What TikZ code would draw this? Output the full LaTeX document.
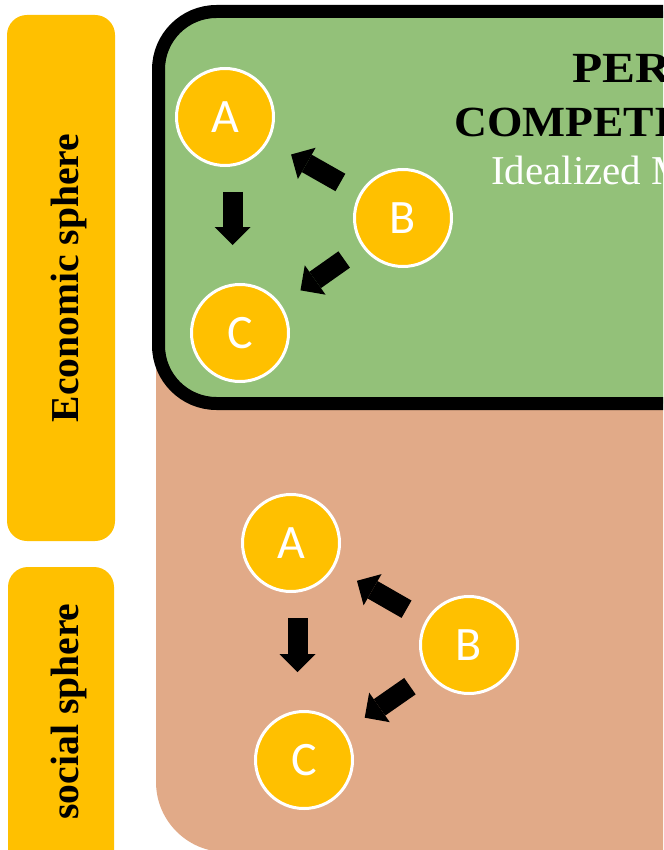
\documentclass[tikz,border=0pt]{standalone}
\usepackage{graphicx}
\usepackage{fontspec}
\setmainfont{Liberation Serif}
\newfontfamily\calib{Carlito}
\usetikzlibrary{arrows.meta,calc}
\definecolor{gold}{RGB}{255,192,0}
\definecolor{econgreen}{RGB}{147,193,121}
\definecolor{socbrown}{RGB}{225,170,136}
\tikzset{
  agent/.style={circle, minimum size=97pt, inner sep=0pt, fill=gold, draw=white, line width=3pt, text=white, font=\calib\fontsize{48}{50}\selectfont},
  blockarrow/.style={draw=black, line width=20pt, -{Triangle[length=18pt 0 0,width=36pt 0 0,line width=0pt 0 0]}},
  sidebar/.style={fill=gold, rounded corners=20pt},
  sidelabel/.style={rotate=90, anchor=base, inner sep=0pt, font=\bfseries\fontsize{39.6}{44}\selectfont},
  titletext/.style={anchor=base west, inner sep=0pt, font=\bfseries\fontsize{43}{50}\selectfont},
  subtext/.style={anchor=base west, inner sep=0pt, text=white, font=\fontsize{41}{48}\selectfont},
}
\begin{document}
\begin{tikzpicture}[x=1pt,y=-1pt]
\useasboundingbox (0,0) rectangle (663,850);
\begin{scope}
\clip (0,0) rectangle (663,850);
% side bars
\fill[sidebar] (7,15) rectangle (115,541);
\fill[sidebar] (8,567) rectangle (114,875);
\node[sidelabel] (econ) at (78,278) {Economic sphere};
\node[sidelabel] (soc) at (78,711.5) {social sphere};
% social sphere panel
\fill[socbrown, rounded corners=70pt] (156,200) rectangle (760,852);
% economic sphere panel
\draw[line width=13pt, fill=econgreen, rounded corners=58pt] (158.5,11.5) rectangle (760,403.5);
% title
\node[titletext] (t1) at (572,83) {\scalebox{1.15}[1]{PERFECT}};
\node[titletext] (t2) at (454,137) {\scalebox{1.06}[1]{COMPETITION}};
\node[subtext] (t3) at (491,185) {Idealized Market};
% economic agents
\node[agent] (A1) at (225,117) {A};
\node[agent] (B1) at (403,218) {B};
\node[agent] (C1) at (240,333) {C};
\coordinate (m1) at ($(A1.south)!0.5!(A1.south -| C1)$);
\draw[blockarrow] ($(m1)+(0,25)$) -- ($(m1)+(0,78)$);
\draw[blockarrow, shorten <=22pt, shorten >=26pt] (B1) -- (A1);
\draw[blockarrow, shorten <=22pt, shorten >=24pt] (B1) -- (C1);
% social agents
\node[agent] (A2) at (291,543) {A};
\node[agent] (B2) at (469,645) {B};
\node[agent] (C2) at (304,760) {C};
\coordinate (m2) at ($(A2.south)!0.5!(A2.south -| C2)$);
\draw[blockarrow] ($(m2)+(0,25)$) -- ($(m2)+(0,79)$);
\draw[blockarrow, shorten <=22pt, shorten >=26pt] (B2) -- (A2);
\draw[blockarrow, shorten <=22pt, shorten >=24pt] (B2) -- (C2);
\end{scope}
\end{tikzpicture}
\end{document}
